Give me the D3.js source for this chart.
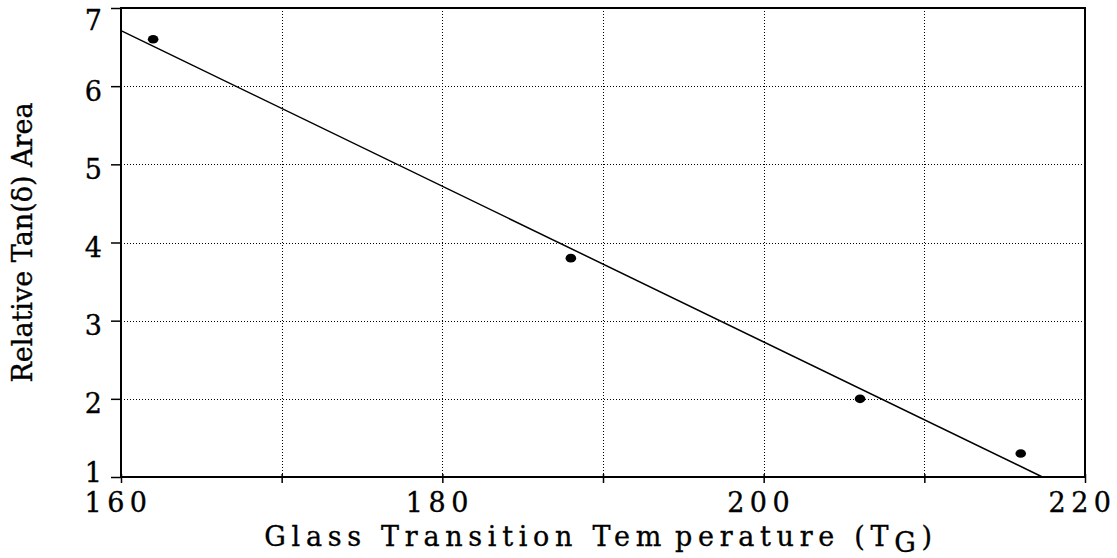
<!DOCTYPE html>
<html>
<head>
<meta charset="utf-8">
<script src="https://cdn.jsdelivr.net/npm/d3@7"></script>
<style>
  html, body { margin: 0; padding: 0; background: #fff; }
  svg { display: block; }
  text { font-family: "DejaVu Serif", serif; fill: #000; stroke: #000; stroke-width: 0.35px; }
</style>
</head>
<body>
<svg id="chart" width="1117" height="558"></svg>
<script>
// Measured samples: glass transition temperature vs relative tan(delta) area
const tgValues = [162, 188, 206, 216];
const tanAreaValues = [6.6, 3.8, 2.0, 1.3];

// Axis ticks
const xTicks = [160, 170, 180, 190, 200, 210, 220];
const xTickLabels = ["160", "", "180", "", "200", "", "220"];
const yTicks = [1, 2, 3, 4, 5, 6, 7];
const yTickLabels = ["1", "2", "3", "4", "5", "6", "7"];

const svg = d3.select("#chart");
const plotL = 121, plotR = 1085, plotT = 8, plotB = 477;

const x = d3.scaleLinear().domain([160, 220]).range([plotL, plotR]);
const y = d3.scaleLinear().domain([1, 7]).range([plotB, plotT]);

const crisp = v => Math.round(v) + 0.5;

// Dotted grid lines (interior only)
const grid = svg.append("g").attr("stroke", "#000").attr("stroke-width", 1)
  .attr("stroke-dasharray", "1,2").attr("fill", "none");
grid.selectAll("line.v").data(xTicks.slice(1, -1)).enter().append("line")
  .attr("class", "v")
  .attr("x1", d => crisp(x(d))).attr("x2", d => crisp(x(d)))
  .attr("y1", plotT).attr("y2", plotB);
grid.selectAll("line.h").data(yTicks.slice(1, -1)).enter().append("line")
  .attr("class", "h")
  .attr("y1", d => crisp(y(d))).attr("y2", d => crisp(y(d)))
  .attr("x1", plotL).attr("x2", plotR);

// Least-squares fit of the samples, clipped to the plot area
const n = tgValues.length;
const mx = d3.mean(tgValues), my = d3.mean(tanAreaValues);
let sxy = 0, sxx = 0;
for (let i = 0; i < n; i++) {
  sxy += (tgValues[i] - mx) * (tanAreaValues[i] - my);
  sxx += (tgValues[i] - mx) ** 2;
}
const slope = sxy / sxx, intercept = my - slope * mx;
const xEnd = Math.min(220, (1 - intercept) / slope);
const fitPts = [[160, intercept + slope * 160], [xEnd, intercept + slope * xEnd]];

svg.append("path")
  .datum(fitPts)
  .attr("fill", "none")
  .attr("stroke", "#000")
  .attr("stroke-width", 1.5)
  .attr("d", d3.line().x(d => x(d[0])).y(d => y(d[1])));

// Data points
svg.selectAll("ellipse.pt").data(tgValues).enter().append("ellipse")
  .attr("class", "pt")
  .attr("cx", d => x(d))
  .attr("cy", (d, i) => y(tanAreaValues[i]))
  .attr("rx", 5.3).attr("ry", 4.3)
  .attr("fill", "#000");

// Y axis
const yAxis = svg.append("g")
  .attr("transform", `translate(${plotL},0)`)
  .call(d3.axisLeft(y).tickValues(yTicks).tickSize(10).tickSizeOuter(0)
    .tickFormat((d, i) => yTickLabels[i]));
yAxis.select(".domain").remove();
yAxis.selectAll(".tick line").attr("stroke", "#000").attr("stroke-width", 1.5);
yAxis.selectAll(".tick text")
  .attr("x", -19)
  .attr("dy", null)
  .attr("y", d => d === 7 ? 21 : (d === 1 ? 4 : 14))
  .style("font-size", "27px")
  .style("font-family", "'DejaVu Serif', serif");

// X axis
const xAxis = svg.append("g")
  .attr("transform", `translate(0,${plotB})`)
  .call(d3.axisBottom(x).tickValues(xTicks).tickSize(6).tickSizeOuter(0)
    .tickFormat((d, i) => xTickLabels[i]));
xAxis.select(".domain").remove();
xAxis.selectAll(".tick line").attr("y1", -3).attr("stroke", "#000").attr("stroke-width", 1.5);
xAxis.selectAll(".tick text")
  .attr("dy", null)
  .attr("y", 35)
  .attr("dx", -3)
  .style("font-size", "27px")
  .style("letter-spacing", "5.5px")
  .style("font-family", "'DejaVu Serif', serif");

// Plot frame
svg.append("rect")
  .attr("x", plotL).attr("y", plotT)
  .attr("width", plotR - plotL).attr("height", plotB - plotT)
  .attr("fill", "none").attr("stroke", "#000").attr("stroke-width", 2);

// Axis titles
const xTitle = svg.append("text")
  .attr("x", (plotL + plotR) / 2 - 2)
  .attr("y", 546)
  .attr("text-anchor", "middle")
  .style("font-size", "27px")
  .style("letter-spacing", "5.7px");
xTitle.append("tspan").text("Glass Transition Tem");
xTitle.append("tspan").attr("dx", 8).text("perature (T");
xTitle.append("tspan").attr("dy", 6).text("G");
xTitle.append("tspan").attr("dy", -6).text(")");

svg.append("text")
  .attr("transform", `translate(32,${(plotT + plotB) / 2}) rotate(-90)`)
  .attr("text-anchor", "middle")
  .style("font-size", "27px")
  .text("Relative Tan(\u03b4) Area");
</script>
</body>
</html>
